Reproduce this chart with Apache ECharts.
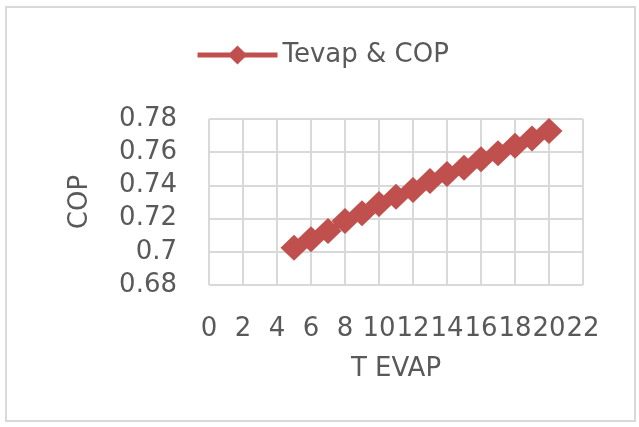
<!DOCTYPE html>
<html>
<head>
<meta charset="utf-8">
<script src="https://cdn.jsdelivr.net/npm/echarts@6/dist/echarts.min.js"></script>
<style>
  html, body { margin: 0; padding: 0; background: #fff; }
  #frame {
    position: absolute; left: 5px; top: 6px; width: 627px; height: 412px;
    border: 2px solid #d9d9d9;
  }
  #chart { width: 639px; height: 427px; position: absolute; left: 0; top: 0; }
</style>
</head>
<body>
<div id="frame"></div>
<div id="chart"></div>
<script>
  // T evap (x) against COP (y)
  const tEvap = [5, 6, 7, 8, 9, 10, 11, 12, 13, 14, 15, 16, 17, 18, 19, 20];
  const cop = [0.7025, 0.7075, 0.7125, 0.7185, 0.7232, 0.7288, 0.7332, 0.7372,
               0.7427, 0.7469, 0.7507, 0.7557, 0.7594, 0.7639, 0.7683, 0.7728];

  const txt = "#595959";
  const font = "DejaVu Sans";
  const red = "#c0504d";

  const chart = echarts.init(document.getElementById("chart"), null, { renderer: "canvas" });
  chart.setOption({
    animation: false,
    legend: {
      top: 37,
      left: 190,
      itemWidth: 80,
      itemHeight: 24,
      itemGap: 8,
      lineStyle: { width: 5 },
      textStyle: { fontSize: 26, color: txt, fontFamily: font },
      data: ["Tevap & COP"]
    },
    grid: { left: 209, right: 56, top: 119, bottom: 142 },
    xAxis: {
      type: "value",
      min: 0, max: 22, interval: 2,
      name: "T EVAP",
      nameLocation: "center",
      nameGap: 71,
      nameTextStyle: { fontSize: 26, color: txt, fontFamily: font },
      axisLine: { show: false },
      axisTick: { show: false },
      axisLabel: { fontSize: 26, color: txt, fontFamily: font, margin: 31 },
      splitLine: { show: true, lineStyle: { color: "#d9d9d9", width: 2 } }
    },
    yAxis: {
      type: "value",
      min: 0.68, max: 0.78, interval: 0.02,
      name: "COP",
      nameLocation: "center",
      nameGap: 116,
      nameTextStyle: { fontSize: 26, color: txt, fontFamily: font },
      axisLine: { show: false },
      axisTick: { show: false },
      axisLabel: { fontSize: 26, color: txt, fontFamily: font, margin: 32 },
      splitLine: { show: true, lineStyle: { color: "#d9d9d9", width: 2 } }
    },
    series: [{
      name: "Tevap & COP",
      type: "line",
      data: tEvap.map((t, i) => [t, cop[i]]),
      symbol: "diamond",
      symbolSize: [27, 26],
      itemStyle: { color: red },
      lineStyle: { color: red, width: 7 }
    }]
  });
</script>
</body>
</html>
